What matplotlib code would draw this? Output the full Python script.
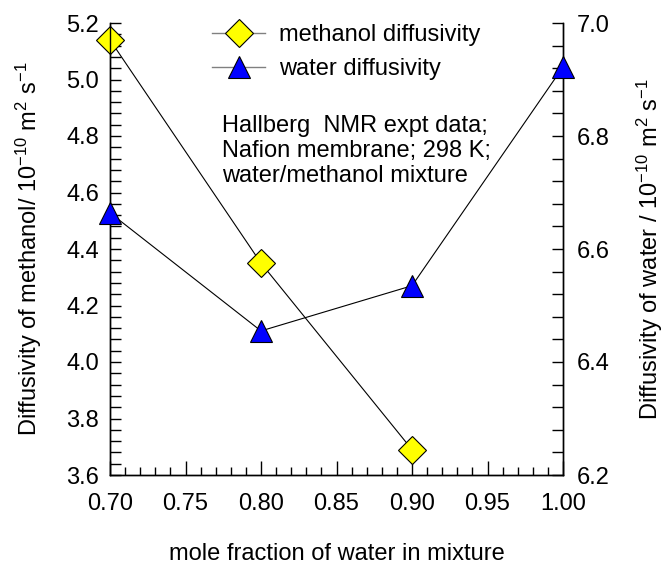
import matplotlib
matplotlib.use("Agg")
import matplotlib.pyplot as plt
from matplotlib.ticker import MultipleLocator, FormatStrFormatter
from matplotlib.lines import Line2D

plt.rcParams['font.family'] = ['Liberation Sans', 'DejaVu Sans']
plt.rcParams['mathtext.fontset'] = 'custom'
plt.rcParams['mathtext.rm'] = 'Liberation Sans'
plt.rcParams['mathtext.it'] = 'Liberation Sans'

x_meth = [0.70, 0.80, 0.90]
d_meth = [5.14, 4.35, 3.69]
x_water = [0.70, 0.80, 0.90, 1.00]
d_water = [6.664, 6.455, 6.535, 6.922]

fig = plt.figure(figsize=(6.65, 5.64), dpi=100)
ax = fig.add_axes([110/665, 1-475/564, (563-110)/665, (475-23)/564])
ax2 = ax.twinx()

ax.set_xlim(0.70, 1.00)
ax.set_ylim(3.6, 5.2)
ax2.set_ylim(6.2, 7.0)

l1, = ax.plot(x_meth, d_meth, color='black', lw=0.8, marker='D', markersize=14,
              markerfacecolor='#ffff00', markeredgecolor='black', markeredgewidth=0.8, zorder=3)
l2, = ax2.plot(x_water, d_water, color='black', lw=0.8, marker='^', markersize=16.5,
               markerfacecolor='#0000ff', markeredgecolor='black', markeredgewidth=0.8, zorder=3)
l1.set_clip_on(False)
l2.set_clip_on(False)
for a in (ax, ax2):
    a.spines['top'].set_visible(False)
    for s in a.spines.values():
        s.set_linewidth(1.0)

ax.xaxis.set_major_locator(MultipleLocator(0.05))
ax.xaxis.set_minor_locator(MultipleLocator(0.01))
ax.yaxis.set_major_locator(MultipleLocator(0.2))
ax.yaxis.set_minor_locator(MultipleLocator(0.04))
ax2.yaxis.set_major_locator(MultipleLocator(0.2))
ax2.yaxis.set_minor_locator(MultipleLocator(0.04))
ax.xaxis.set_major_formatter(FormatStrFormatter('%.2f'))
ax.yaxis.set_major_formatter(FormatStrFormatter('%.1f'))
ax2.yaxis.set_major_formatter(FormatStrFormatter('%.1f'))

ax.tick_params(axis='x', which='major', direction='in', length=10, width=1, labelsize=17, pad=13, top=False)
ax.tick_params(axis='x', which='minor', direction='in', length=6, width=1, top=False)
ax.tick_params(axis='y', which='major', direction='in', length=8, width=1, labelsize=17, pad=8, right=False)
ax.tick_params(axis='y', which='minor', direction='in', length=8, width=1, right=False)
ax2.tick_params(axis='y', which='major', direction='in', length=8, width=1, labelsize=17, pad=10)
ax2.tick_params(axis='y', which='minor', direction='in', length=8, width=1)

ax.set_xlabel('mole fraction of water in mixture', fontsize=17, labelpad=20)
ax.set_ylabel(r'Diffusivity of methanol/ 10$^{-10}$ m$^{2}$ s$^{-1}$', fontsize=17, labelpad=16)
ax2.set_ylabel(r'Diffusivity of water / 10$^{-10}$ m$^{2}$ s$^{-1}$', fontsize=17, labelpad=18)

h1 = Line2D([], [], color='gray', lw=1, marker='D', markersize=14,
            markerfacecolor='#ffff00', markeredgecolor='black', markeredgewidth=0.8)
h2 = Line2D([], [], color='gray', lw=1, marker='^', markersize=16.5,
            markerfacecolor='#0000ff', markeredgecolor='black', markeredgewidth=0.8)
leg = fig.legend([h1, h2], ['methanol diffusivity', 'water diffusivity'], loc='upper left',
                 bbox_to_anchor=(212/665, 1-24/564), frameon=False, fontsize=17, handlelength=2.25,
                 handletextpad=0.6, labelspacing=0.52, borderpad=0, borderaxespad=0)

fig.text(222/665, 1-115/564, 'Hallberg  NMR expt data;\nNafion membrane; 298 K;\nwater/methanol mixture',
         fontsize=17, va='top', ha='left', linespacing=1.17)

fig.savefig('out.png', dpi=100)
